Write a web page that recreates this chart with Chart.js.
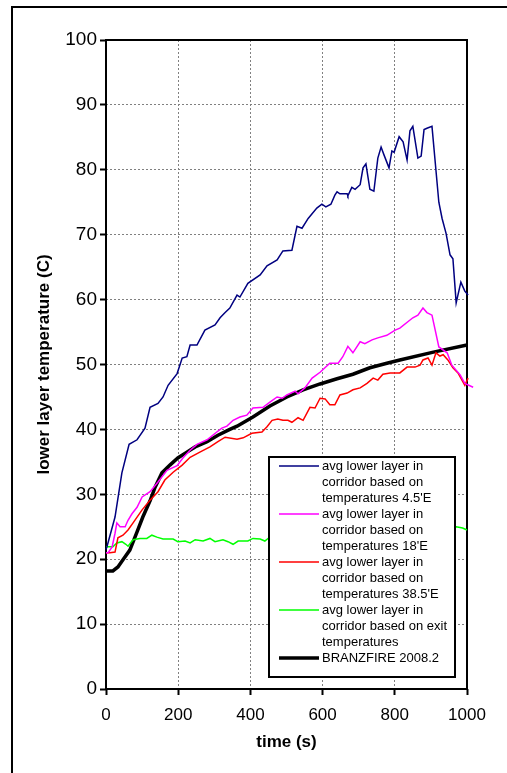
<!DOCTYPE html>
<html>
<head>
<meta charset="utf-8">
<script src="https://cdn.jsdelivr.net/npm/chart.js@4.4.1/dist/chart.umd.min.js"></script>
<style>
  html, body { margin: 0; padding: 0; background: #fff; overflow: hidden; }
  #wrap { position: relative; width: 507px; height: 773px; }
  #frame { position: absolute; left: 11px; top: 6px; width: 700px; height: 900px;
           border-left: 2px solid #000; border-top: 2px solid #000; pointer-events: none; }
</style>
</head>
<body>
<div id="wrap">
  <canvas id="chart"></canvas>
  <div id="frame"></div>
</div>
<script>
// time (s) and lower layer temperature (C)
const blueT = [0, 3, 25, 44, 64, 86, 108, 122, 144, 158, 172, 197, 211, 224, 233, 252, 274, 302, 316, 330, 343, 363, 371, 393, 427, 446, 474, 490, 515, 529, 543, 560, 584, 598, 609, 623, 634, 640, 648, 668, 670, 681, 690, 704, 712, 720, 731, 742, 753, 762, 770, 784, 792, 798, 812, 823, 834, 842, 850, 864, 873, 881, 889, 903, 922, 931, 942, 953, 961, 970, 983, 994, 1003, 1017];
const blueY = [21.5, 22, 26.5, 33.3, 37.7, 38.4, 40.2, 43.4, 44.0, 45.0, 46.8, 48.6, 51.0, 51.2, 53.0, 53.0, 55.3, 56.1, 57.2, 58.0, 58.7, 60.7, 60.4, 62.5, 63.8, 65.2, 66.1, 67.5, 67.6, 71.3, 71.0, 72.5, 74.1, 74.7, 74.3, 74.7, 76.1, 76.6, 76.3, 76.3, 76.0, 77.3, 77.0, 77.7, 80.3, 80.9, 77.0, 76.7, 81.8, 83.5, 82.3, 80.3, 82.9, 82.7, 85.1, 84.3, 81.5, 86.0, 86.7, 81.8, 82.1, 86.2, 86.4, 86.7, 75.0, 72.5, 70.2, 66.9, 66.3, 59.5, 62.7, 61.3, 60.7, 59.2];

const magentaT = [0, 6, 17, 25, 30, 39, 53, 61, 72, 86, 100, 122, 144, 169, 197, 213, 233, 252, 280, 307, 321, 335, 352, 371, 390, 407, 435, 454, 474, 488, 501, 524, 532, 551, 571, 593, 620, 643, 656, 670, 684, 704, 717, 737, 753, 778, 801, 814, 850, 864, 878, 889, 903, 922, 945, 958, 981, 994, 1017];
const magentaY = [21, 21, 21.9, 24, 25.6, 25, 25, 26, 27, 28, 29.6, 30.4, 31.9, 33.7, 34.4, 35.6, 36.8, 37.7, 38.4, 39.6, 40.2, 40.5, 41.4, 41.9, 42.2, 43.3, 43.4, 44.2, 45.0, 44.8, 45.3, 45.9, 45.5, 46.4, 47.9, 48.8, 50.2, 50.2, 51.2, 52.8, 51.8, 53.5, 53.2, 53.8, 54.1, 54.5, 55.3, 55.6, 57.2, 57.6, 58.7, 58.0, 57.6, 52.7, 51.8, 49.9, 48.4, 47.1, 46.5];

const redT = [0, 11, 25, 33, 47, 61, 75, 100, 122, 144, 163, 186, 211, 233, 260, 288, 310, 330, 363, 380, 404, 432, 446, 460, 476, 490, 504, 515, 532, 546, 565, 579, 593, 607, 620, 634, 648, 668, 684, 704, 723, 740, 753, 767, 787, 814, 834, 856, 870, 878, 892, 903, 914, 925, 934, 947, 961, 975, 994, 1003, 1011, 1017];
const redY = [21, 21, 21.1, 23.3, 23.7, 24.5, 25.6, 27.6, 29.1, 30.4, 32.2, 33.4, 34.5, 35.7, 36.5, 37.3, 38.1, 38.8, 38.5, 38.7, 39.4, 39.6, 40.4, 41.4, 41.6, 41.4, 41.4, 41.1, 41.8, 41.4, 43.4, 43.3, 44.8, 44.7, 43.8, 43.8, 45.3, 45.6, 46.1, 46.4, 47.1, 47.9, 47.6, 48.5, 48.7, 48.7, 49.6, 49.6, 49.9, 50.7, 51.0, 49.9, 51.8, 51.3, 51.5, 50.7, 49.5, 48.7, 46.8, 47.9, 47.1, 46.7];

const greenT = [0, 19, 30, 44, 55, 61, 75, 94, 113, 127, 141, 158, 186, 199, 219, 233, 247, 269, 288, 302, 324, 338, 352, 366, 393, 407, 427, 440, 449, 520, 600, 700, 800, 900, 960, 970, 988, 1000, 1017];
const greenY = [21.9, 21.9, 22.5, 22.7, 22.3, 22.0, 23.0, 23.2, 23.2, 23.7, 23.4, 23.1, 23.1, 22.7, 22.8, 22.5, 23.0, 22.8, 23.2, 22.7, 23.0, 22.7, 22.3, 22.8, 22.8, 23.2, 23.1, 22.8, 23.2, 23.3, 23.5, 23.8, 24.1, 24.5, 24.9, 25.0, 24.8, 24.5, 24.0];

const branzT = [0, 19, 33, 47, 66, 86, 102, 122, 136, 155, 177, 199, 224, 247, 280, 310, 343, 363, 407, 454, 501, 546, 593, 640, 684, 731, 778, 814, 907, 1000];
const branzY = [18.2, 18.2, 18.8, 19.9, 21.4, 24.2, 26.5, 29.0, 31.1, 33.3, 34.5, 35.6, 36.5, 37.3, 38.1, 39.1, 40.0, 40.5, 41.9, 43.6, 45.0, 46.1, 47.0, 47.8, 48.5, 49.5, 50.2, 50.7, 51.9, 53.0];

const xTicks = [0, 200, 400, 600, 800, 1000];
const yTicks = [0, 10, 20, 30, 40, 50, 60, 70, 80, 90, 100];

const legendText = [
  ['avg lower layer in', 'corridor based on', "temperatures 4.5'E"],
  ['avg lower layer in', 'corridor based on', "temperatures 18'E"],
  ['avg lower layer in', 'corridor based on', "temperatures 38.5'E"],
  ['avg lower layer in', 'corridor based on exit', 'temperatures'],
  ['BRANZFIRE 2008.2']
];

function pts(ts, ys) {
  return ts.map((t, i) => ({ x: t, y: ys[i] }));
}

function series(label, ts, ys, color, width) {
  return {
    label: label.join(' '),
    data: pts(ts, ys),
    borderColor: color,
    backgroundColor: color,
    borderWidth: width,
    pointRadius: 0,
    tension: 0,
    clip: false
  };
}

// plot frame drawn under the lines, like the Excel plot area border
const framePlugin = {
  id: 'plotFrame',
  beforeDatasetsDraw(chart) {
    const { ctx, chartArea: a } = chart;
    ctx.save();
    ctx.strokeStyle = '#000';
    ctx.lineWidth = 2;
    ctx.strokeRect(a.left, a.top, a.right - a.left, a.bottom - a.top);
    ctx.restore();
  }
};

// opaque legend box inside the plot, drawn over the lines
const legendBoxPlugin = {
  id: 'legendBox',
  afterDatasetsDraw(chart) {
    const ctx = chart.ctx;
    const box = { x: 269, y: 457, w: 186, h: 220 };
    const rowH = 16;
    ctx.save();
    ctx.fillStyle = '#fff';
    ctx.fillRect(box.x, box.y, box.w, box.h);
    ctx.strokeStyle = '#000';
    ctx.lineWidth = 2;
    ctx.strokeRect(box.x, box.y, box.w, box.h);
    ctx.font = '13px "Liberation Sans", Arial, sans-serif';
    ctx.textBaseline = 'middle';
    ctx.fillStyle = '#000';
    let row = 0;
    chart.data.datasets.forEach((ds, i) => {
      const y = box.y + 9 + row * rowH;
      ctx.strokeStyle = ds.borderColor;
      ctx.lineWidth = ds.borderWidth;
      ctx.beginPath();
      ctx.moveTo(box.x + 10, y);
      ctx.lineTo(box.x + 50, y);
      ctx.stroke();
      legendText[i].forEach((line, j) => {
        ctx.fillText(line, box.x + 53, y + j * rowH);
      });
      row += legendText[i].length;
    });
    ctx.restore();
  }
};

new Chart(document.getElementById('chart'), {
  type: 'line',
  data: {
    datasets: [
      series(legendText[0], blueT, blueY, '#000080', 1.5),
      series(legendText[1], magentaT, magentaY, '#FF00FF', 1.5),
      series(legendText[2], redT, redY, '#FF0000', 1.5),
      series(legendText[3], greenT, greenY, '#00FF00', 1.5),
      series(legendText[4], branzT, branzY, '#000000', 3.5)
    ]
  },
  options: {
    responsive: true,
    maintainAspectRatio: false,
    animation: false,
    layout: { padding: { left: 0, top: 40, right: 40, bottom: 0 } },
    plugins: {
      legend: { display: false },
      tooltip: { enabled: false }
    },
    scales: {
      x: {
        type: 'linear',
        min: 0,
        max: 1000,
        afterBuildTicks: (s) => { s.ticks = xTicks.map(v => ({ value: v })); },
        afterFit: (s) => { s.height = 84; },
        grid: { color: '#808080', lineWidth: 1, tickLength: 6, tickColor: '#000', tickWidth: 2 },
        border: { display: false, dash: [2, 2] },
        ticks: { color: '#000', padding: 10, maxRotation: 0,
                 callback: (v) => String(v),
                 font: { family: '"Liberation Sans", Arial, sans-serif', size: 17 } },
        title: { display: true, text: 'time (s)', color: '#000',
                 padding: { top: 0, bottom: 20 },
                 font: { family: '"Liberation Sans", Arial, sans-serif', size: 17, weight: 'bold' } }
      },
      y: {
        min: 0,
        max: 100,
        afterBuildTicks: (s) => { s.ticks = yTicks.map(v => ({ value: v })); },
        afterFit: (s) => { s.width = 106; },
        grid: { color: '#808080', lineWidth: 1, tickLength: 6, tickColor: '#000', tickWidth: 2 },
        border: { display: false, dash: [2, 2] },
        ticks: { color: '#000', padding: 3,
                 callback: (v) => String(v),
                 font: { family: '"Liberation Sans", Arial, sans-serif', size: 19 } },
        title: { display: true, text: 'lower layer temperature (C)', color: '#000',
                 padding: { top: 34, bottom: 0 },
                 font: { family: '"Liberation Sans", Arial, sans-serif', size: 17, weight: 'bold' } }
      }
    }
  },
  plugins: [framePlugin, legendBoxPlugin]
});
</script>
</body>
</html>
